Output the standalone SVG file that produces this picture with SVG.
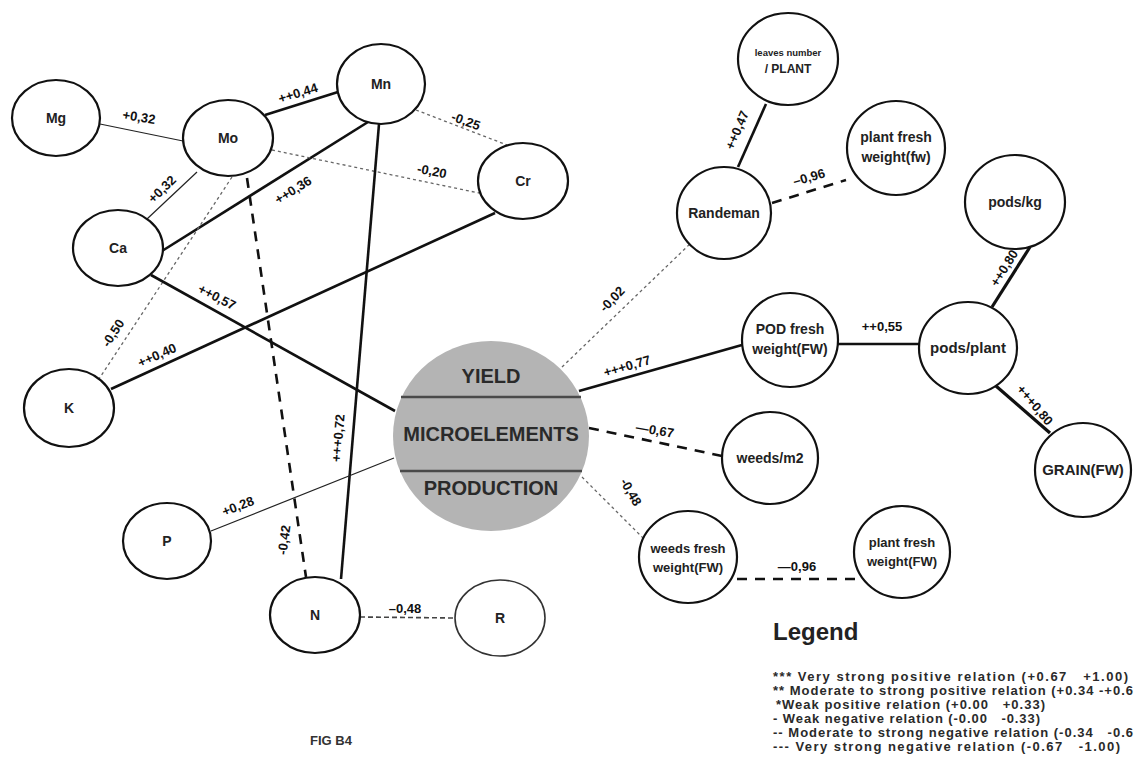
<svg xmlns="http://www.w3.org/2000/svg" width="1137" height="780" viewBox="0 0 1137 780">
<style>
.bg{fill:#fff}
.node{fill:#fff;stroke:#111;stroke-width:2.2}
.t{font-family:"Liberation Sans",Arial,sans-serif;font-weight:bold;fill:#222;text-anchor:middle}
.nl{font-size:14px}
.el{font-family:"Liberation Sans",Arial,sans-serif;font-weight:bold;fill:#111;text-anchor:middle;font-size:13px}
.thin{stroke:#222;stroke-width:1.2;fill:none}
.thick{stroke:#111;stroke-width:2.6;fill:none}
.dot{stroke:#666;stroke-width:1.3;stroke-dasharray:3 3;fill:none}
.dash{stroke:#111;stroke-width:2.6;stroke-dasharray:10 8;fill:none}
.mdash{stroke:#444;stroke-width:1.6;stroke-dasharray:5 3;fill:none}
.leg{font-family:"Liberation Sans",Arial,sans-serif;font-weight:bold;fill:#2a2a2a;font-size:13px}
</style>
<rect class="bg" x="0" y="0" width="1137" height="780"/>
<g id="connectors">
<line class="thin" x1="100" y1="124" x2="183" y2="141"/>
<line class="thick" x1="265" y1="115" x2="338" y2="92"/>
<line class="thin" x1="197" y1="172" x2="147" y2="219"/>
<line class="thick" x1="162" y1="251" x2="368" y2="122"/>
<line class="dot" x1="272" y1="150" x2="479" y2="193"/>
<line class="dot" x1="416" y1="110" x2="507" y2="145"/>
<line class="thick" x1="379" y1="124" x2="341" y2="579"/>
<line class="dash" x1="247" y1="178" x2="306" y2="577"/>
<line class="dot" x1="232" y1="177" x2="99" y2="379"/>
<line class="thick" x1="151" y1="275" x2="395" y2="411"/>
<line class="thick" x1="111" y1="389" x2="495" y2="213"/>
<line class="thin" x1="211" y1="531" x2="394" y2="458"/>
<line class="mdash" x1="360" y1="617" x2="455" y2="618"/>
<line class="dot" x1="562" y1="367" x2="692" y2="242"/>
<line class="thick" x1="579" y1="391" x2="742" y2="345"/>
<line class="thick" x1="738" y1="167" x2="766" y2="104"/>
<line class="dash" x1="772" y1="203" x2="846" y2="180"/>
<line class="thick" x1="838" y1="344" x2="919" y2="344"/>
<line class="thick" style="stroke-width:3.2" x1="992" y1="307" x2="1030" y2="247"/>
<line class="thick" style="stroke-width:3.2" x1="996" y1="386" x2="1050" y2="433"/>
<line class="dash" x1="589" y1="428" x2="722" y2="456"/>
<line class="dot" x1="582" y1="477" x2="645" y2="540"/>
<line class="dash" x1="737" y1="579" x2="855" y2="579"/>
<g id="edge-labels">
<text class="el" transform="translate(139,117) rotate(9)" dy="0.35em">+0,32</text>
<text class="el" transform="translate(298,93) rotate(-17)" dy="0.35em">++0,44</text>
<text class="el" transform="translate(162,189) rotate(-44)" dy="0.35em">+0,32</text>
<text class="el" transform="translate(293,190) rotate(-32)" dy="0.35em">++0,36</text>
<text class="el" transform="translate(432,171) rotate(11)" dy="0.35em">-0,20</text>
<text class="el" transform="translate(466,121) rotate(20)" dy="0.35em">-0,25</text>
<text class="el" transform="translate(338,438) rotate(-85)" dy="0.35em">+++0,72</text>
<text class="el" transform="translate(284,540) rotate(-82)" dy="0.35em">-0,42</text>
<text class="el" transform="translate(113,333) rotate(-57)" dy="0.35em">-0,50</text>
<text class="el" transform="translate(217,297) rotate(27)" dy="0.35em">++0,57</text>
<text class="el" transform="translate(157,355) rotate(-24)" dy="0.35em">++0,40</text>
<text class="el" transform="translate(238,506) rotate(-21)" dy="0.35em">+0,28</text>
<text class="el" transform="translate(405,608)" dy="0.35em">–0,48</text>
<text class="el" transform="translate(612,299) rotate(-46)" dy="0.35em">-0,02</text>
<text class="el" transform="translate(627,366) rotate(-16)" dy="0.35em">+++0,77</text>
<text class="el" transform="translate(737,130) rotate(-67)" dy="0.35em">++0,47</text>
<text class="el" transform="translate(809,177) rotate(-16)" dy="0.35em">–0,96</text>
<text class="el" transform="translate(882,326)" dy="0.35em">++0,55</text>
<text class="el" transform="translate(1004,268) rotate(-58)" dy="0.35em">++0,80</text>
<text class="el" transform="translate(1035,405) rotate(50)" dy="0.35em">+++0,80</text>
<text class="el" transform="translate(655,430) rotate(10)" dy="0.35em">—0,67</text>
<text class="el" transform="translate(631,492) rotate(60)" dy="0.35em">-0,48</text>
<text class="el" transform="translate(797,566)" dy="0.35em">—0,96</text>
</g>
</g>
<g id="node-Mg"><ellipse class="node" cx="56" cy="118" rx="44" ry="38"/><text class="t nl" x="56" y="123">Mg</text></g>
<g id="node-Mo"><ellipse class="node" cx="228" cy="138" rx="45" ry="38"/><text class="t nl" x="228" y="143">Mo</text></g>
<g id="node-Mn"><ellipse class="node" cx="381" cy="84" rx="44" ry="40"/><text class="t nl" x="381" y="89">Mn</text></g>
<g id="node-Cr"><ellipse class="node" cx="523" cy="181" rx="45" ry="38"/><text class="t nl" x="523" y="186">Cr</text></g>
<g id="node-Ca"><ellipse class="node" cx="118" cy="248" rx="45" ry="38"/><text class="t nl" x="118" y="253">Ca</text></g>
<g id="node-K"><ellipse class="node" cx="69" cy="408" rx="45" ry="39"/><text class="t nl" x="69" y="413">K</text></g>
<g id="node-P"><ellipse class="node" cx="167" cy="541" rx="44" ry="38"/><text class="t nl" x="167" y="546">P</text></g>
<g id="node-N"><ellipse class="node" cx="315" cy="615" rx="45" ry="38"/><text class="t nl" x="315" y="620">N</text></g>
<g id="node-R"><ellipse class="node" cx="500" cy="618" rx="45" ry="38" style="stroke:#333;stroke-width:1.6"/><text class="t nl" x="500" y="623">R</text></g>
<g id="node-center">
<ellipse cx="491" cy="436" rx="98" ry="95" fill="#b4b4b4"/>
<line x1="401" y1="397" x2="581" y2="397" stroke="#4a4a4a" stroke-width="2.5"/>
<line x1="400" y1="471" x2="582" y2="471" stroke="#4a4a4a" stroke-width="2.5"/>
<text class="t" x="491" y="383" style="font-size:20px;fill:#2a2a2a">YIELD</text>
<text class="t" x="491" y="441" style="font-size:20px;fill:#2a2a2a">MICROELEMENTS</text>
<text class="t" x="491" y="495" style="font-size:20px;fill:#2a2a2a">PRODUCTION</text>
</g>
<g id="node-leaves"><ellipse class="node" cx="788" cy="59" rx="50" ry="46"/><text class="t" x="788" y="56" style="font-size:9.5px">leaves number</text><text class="t" x="788" y="73" style="font-size:12px">/ PLANT</text></g>
<g id="node-plantfw"><ellipse class="node" cx="896" cy="148" rx="49" ry="47"/><text class="t nl" x="896" y="142">plant fresh</text><text class="t nl" x="896" y="162">weight(fw)</text></g>
<g id="node-randeman"><ellipse class="node" cx="724" cy="213" rx="47" ry="46"/><text class="t nl" x="724" y="218">Randeman</text></g>
<g id="node-podskg"><ellipse class="node" cx="1015" cy="202" rx="50" ry="47"/><text class="t nl" x="1015" y="207">pods/kg</text></g>
<g id="node-pod"><ellipse class="node" cx="790" cy="340" rx="48" ry="47"/><text class="t nl" x="790" y="334">POD fresh</text><text class="t nl" x="790" y="354">weight(FW)</text></g>
<g id="node-podsplant"><ellipse class="node" cx="968" cy="348" rx="49" ry="46"/><text class="t" x="968" y="353" style="font-size:15px">pods/plant</text></g>
<g id="node-grain"><ellipse class="node" cx="1083" cy="470" rx="48" ry="47"/><text class="t" x="1083" y="475" style="font-size:15px">GRAIN(FW)</text></g>
<g id="node-weedsm2"><ellipse class="node" cx="770" cy="458" rx="48" ry="46"/><text class="t nl" x="770" y="463">weeds/m2</text></g>
<g id="node-weedsfw"><ellipse class="node" cx="688" cy="557" rx="49" ry="46"/><text class="t" x="688" y="553" style="font-size:13px">weeds fresh</text><text class="t" x="688" y="572" style="font-size:13px">weight(FW)</text></g>
<g id="node-plantFW"><ellipse class="node" cx="902" cy="552" rx="48" ry="46"/><text class="t" x="902" y="547" style="font-size:13px">plant fresh</text><text class="t" x="902" y="566" style="font-size:13px">weight(FW)</text></g>
<g id="legend">
<text x="773" y="640" style="font-family:'Liberation Sans',Arial,sans-serif;font-weight:bold;font-size:24px;fill:#222">Legend</text>
<text class="leg" x="773" y="681" textLength="355" lengthAdjust="spacing" xml:space="preserve">*** Very strong positive relation (+0.67   +1.00)</text>
<text class="leg" x="773" y="695" textLength="360" lengthAdjust="spacing" xml:space="preserve">** Moderate to strong positive relation (+0.34 -+0.6</text>
<text class="leg" x="776" y="709" textLength="269" lengthAdjust="spacing" xml:space="preserve">*Weak positive relation (+0.00   +0.33)</text>
<text class="leg" x="773" y="723" textLength="267" lengthAdjust="spacing" xml:space="preserve">- Weak negative relation (-0.00   -0.33)</text>
<text class="leg" x="773" y="737" textLength="360" lengthAdjust="spacing" xml:space="preserve">-- Moderate to strong negative relation (-0.34   -0.6</text>
<text class="leg" x="773" y="751" textLength="347" lengthAdjust="spacing" xml:space="preserve">--- Very strong negative relation (-0.67   -1.00)</text>
</g>
<text x="310" y="745" style="font-family:'Liberation Sans',Arial,sans-serif;font-weight:bold;font-size:13px;fill:#333">FIG B4</text>
</svg>
